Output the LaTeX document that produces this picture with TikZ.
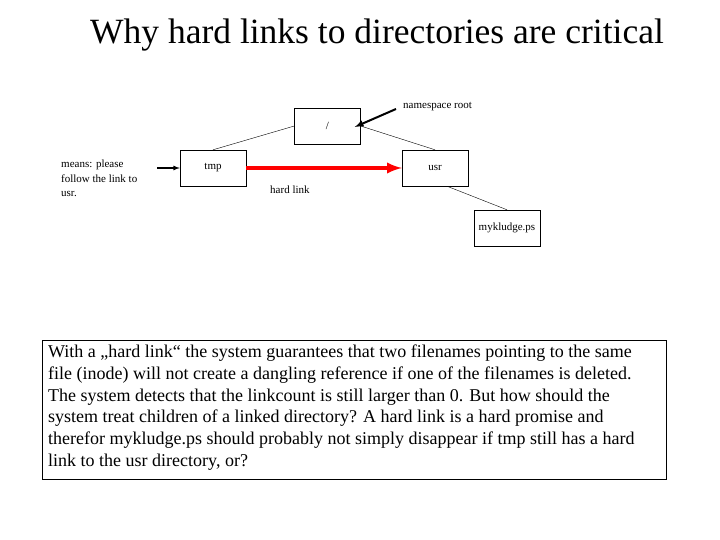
\documentclass[tikz,border=0pt]{standalone}
\usepackage{fontspec}
\setmainfont{Liberation Serif}
\begin{document}
\begin{tikzpicture}[x=1pt,y=-1pt,
  box/.style={draw,thin,minimum width=66pt,minimum height=36pt,inner sep=1pt,font=\fontsize{11}{13}\selectfont},
  lbl/.style={font=\fontsize{11}{14.5}\selectfont,inner sep=0pt}]
\useasboundingbox (0,0) rectangle (720,540);
\node (title) at (377,35) {\fontsize{35.5}{40}\selectfont Why hard links to directories are critical};
\node[box] (root) at (327.5,126) {/};
\node[box] (tmp) at (213,168) {tmp};
\node[box] (usr) at (435,168) {usr};
\node[box] (myk) at (507,228) {mykludge.ps};
\draw (tmp.north) -- (root.west);
\draw (root.east) -- (usr.north);
\draw ([xshift=12pt]usr.south) -- (myk.north);
\draw[red,line width=4pt,-latex] (tmp.east) -- (usr.west);
\node[lbl,anchor=west] (ns) at (403,107) {namespace root};
\coordinate (nsa) at (396,109);
\draw[line width=2pt,-latex] (nsa) -- ([xshift=-6pt,yshift=-1pt]root.east);
\node[lbl,anchor=north west,align=left] (means) at (61,160) {means: please\\follow the link to\\usr.};
\coordinate (ma) at (157,168);
\draw[line width=1.2pt,-latex] (ma) -- (tmp.west);
\node[lbl,anchor=west] (hl) at (270,190) {hard link};
\draw[thin] (42,340) rectangle (666,479);
\node[anchor=north west,align=left,inner sep=0pt,font=\fontsize{18}{21.7}\selectfont] (txt) at (48,345) {With a „hard link“ the system guarantees that two filenames pointing to the same\\file (inode) will not create a dangling reference if one of the filenames is deleted.\\The system detects that the linkcount is still larger than 0. But how should the\\system treat children of a linked directory? A hard link is a hard promise and\\therefor mykludge.ps should probably not simply disappear if tmp still has a hard\\link to the usr directory, or?};
\end{tikzpicture}
\end{document}
